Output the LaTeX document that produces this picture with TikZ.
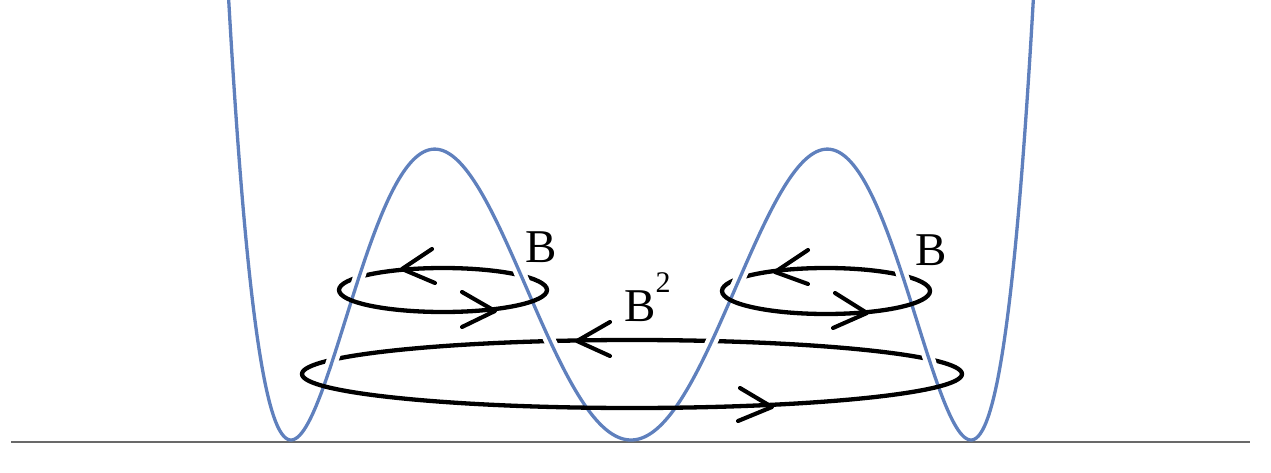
\documentclass[tikz,border=0pt]{standalone}
\usepackage{fontspec}
\setmainfont{Liberation Serif}
\definecolor{potblue}{RGB}{95,128,189}
\definecolor{basegray}{RGB}{105,105,105}
\begin{document}
\begin{tikzpicture}[x=1pt,y=-1pt,
  declare function={sq(\u)=((\u-631)/100)*((\u-631)/100);
                    pot(\u)=440-1.271*sq(\u)*(sq(\u)-11.56)*(sq(\u)-11.56);},
  potline/.style={draw=potblue,line width=3.3pt},
  halo/.style={draw=white,line width=12pt},
  loopline/.style={draw=black,line width=4.3pt},
  chev/.style={draw=black,line width=4.1pt,line cap=round,line join=round},
  lbl/.style={font=\fontsize{47}{52}\selectfont,inner sep=0pt}]
\useasboundingbox (0,0) rectangle (1271,473);
% baseline
\coordinate (bl) at (11,442);
\coordinate (br) at (1250,442);
\draw[basegray,line width=1.5pt] (bl) -- (br);
% potential
\begin{scope}
\clip (0,0) rectangle (1271,473);
\draw[potline] plot[domain=227:1035,samples=400,smooth] (\x,{pot(\x)});
\end{scope}
% ellipses
\coordinate (cL) at (443,290);
\coordinate (cR) at (826,291);
\coordinate (cB) at (632,374);
\draw[loopline] (cL) ellipse[x radius=104,y radius=22];
\draw[loopline] (cR) ellipse[x radius=104,y radius=23];
\draw[loopline] (cB) ellipse[x radius=330,y radius=34];
% back crossings: potential passes in front
\foreach \cx/\cy in {358/279,520/276,740/279,902/278,335/361,548/341,713/341,927/359}{
  \begin{scope}
    \clip (\cx-14,\cy-7) rectangle (\cx+14,\cy+7);
    \draw[halo] plot[domain=227:1035,samples=400,smooth] (\x,{pot(\x)});
    \draw[potline] plot[domain=227:1035,samples=400,smooth] (\x,{pot(\x)});
  \end{scope}
}
% chevrons
\coordinate (tL1) at (402,269);
\draw[chev] (432,249) -- (tL1) -- (435,283);
\coordinate (tL2) at (495,311);
\draw[chev] (462,292) -- (tL2) -- (462,327);
\coordinate (tR1) at (775,272);
\draw[chev] (808,250) -- (tR1) -- (808,284);
\coordinate (tR2) at (867,313);
\draw[chev] (835,293) -- (tR2) -- (833,328);
\coordinate (tB1) at (577,341);
\draw[chev] (610,322) -- (tB1) -- (610,356);
\coordinate (tB2) at (772,407);
\draw[chev] (740,388) -- (tB2) -- (738,421);
% labels
\node[lbl] (BL) at (541,247) {B};
\node[lbl] (BR) at (931,250) {B};
\node[lbl,anchor=base west] (B2) at (624,321) {B\raisebox{0.6em}{\fontsize{30}{30}\selectfont 2}};
\end{tikzpicture}
\end{document}
